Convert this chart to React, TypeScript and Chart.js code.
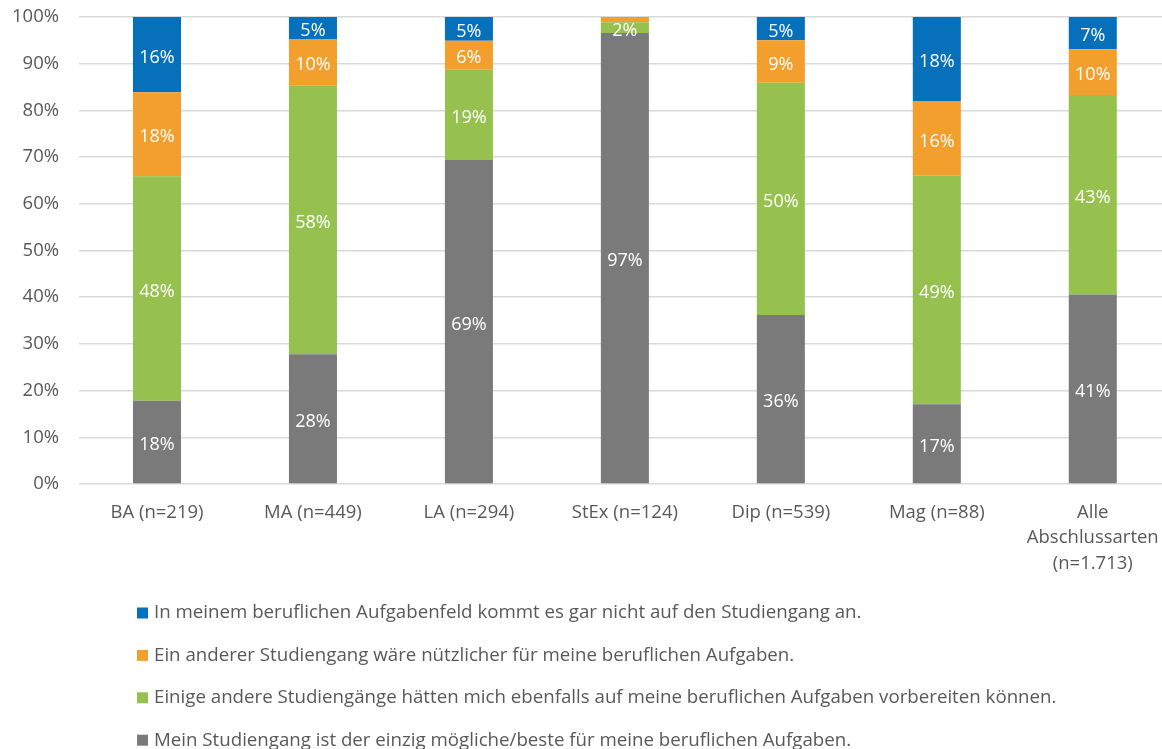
import React, { useEffect, useRef } from "react";
import { Chart, registerables } from "chart.js";

Chart.register(...registerables);

const categories: (string | string[])[] = [
  "BA (n=219)",
  "MA (n=449)",
  "LA (n=294)",
  "StEx (n=124)",
  "Dip (n=539)",
  "Mag (n=88)",
  ["Alle", "Abschlussarten", "(n=1.713)"],
];

const seriesNames = [
  "Mein Studiengang ist der einzig mögliche/beste für meine beruflichen Aufgaben.",
  "Einige andere Studiengänge hätten mich ebenfalls auf meine beruflichen Aufgaben vorbereiten können.",
  "Ein anderer Studiengang wäre nützlicher für meine beruflichen Aufgaben.",
  "In meinem beruflichen Aufgabenfeld kommt es gar nicht auf den Studiengang an.",
];

const grayValues = [17.8, 27.8, 69.4, 96.6, 36.2, 17.1, 40.6];
const greenValues = [48.1, 57.6, 19.3, 2.3, 49.7, 48.9, 42.7];
const orangeValues = [18.0, 9.8, 6.2, 1.1, 9.1, 16.0, 9.8];
const blueValues = [16.1, 4.8, 5.1, 0, 5.0, 18.0, 6.9];

const seriesColors = ["#7a7a7a", "#97c14e", "#f39f2e", "#0770bb"];

const yTicks = [0, 10, 20, 30, 40, 50, 60, 70, 80, 90, 100];

const FONT = "'Open Sans', sans-serif";
const TEXT_COLOR = "#595959";

const barLabelPlugin = {
  id: "barLabels",
  afterDatasetsDraw(chart: any) {
    const ctx = chart.ctx;
    ctx.save();
    ctx.font = `18px ${FONT}`;
    ctx.fillStyle = "#ffffff";
    ctx.textAlign = "center";
    ctx.textBaseline = "middle";
    chart.data.datasets.forEach((ds: any, i: number) => {
      const meta = chart.getDatasetMeta(i);
      meta.data.forEach((bar: any, j: number) => {
        const v = ds.data[j] as number;
        const r = Math.round(v);
        if (r < 2) return;
        const { x, y, base } = bar.getProps(["x", "y", "base"], true);
        ctx.fillText(r + "%", x, (y + base) / 2 + 3);
      });
    });
    ctx.restore();
  },
};

const legendPlugin = {
  id: "stackLegend",
  afterDraw(chart: any) {
    const ctx = chart.ctx;
    const bottom = chart.chartArea.bottom;
    ctx.save();
    ctx.font = `18.7px ${FONT}`;
    ctx.textAlign = "left";
    ctx.textBaseline = "middle";
    const n = chart.data.datasets.length;
    for (let k = 0; k < n; k++) {
      const ds = chart.data.datasets[n - 1 - k];
      const cy = bottom + 129 + k * 42.4;
      ctx.fillStyle = ds.backgroundColor;
      ctx.fillRect(137, cy - 5.5, 11, 11);
      ctx.fillStyle = TEXT_COLOR;
      ctx.fillText(ds.label, 154, cy);
    }
    ctx.restore();
  },
};

export default function App() {
  const ref = useRef<HTMLCanvasElement | null>(null);

  useEffect(() => {
    if (!ref.current) return;
    const values = [grayValues, greenValues, orangeValues, blueValues];
    const chart = new Chart(ref.current, {
      type: "bar",
      data: {
        labels: categories,
        datasets: values.map((vals, i) => ({
          label: seriesNames[i],
          data: vals,
          backgroundColor: seriesColors[i],
          borderWidth: 0,
          categoryPercentage: 1,
          barPercentage: 0.308,
        })),
      },
      options: {
        responsive: false,
        animation: false,
        layout: { padding: { top: 17, right: 4, bottom: 0, left: 0 } },
        plugins: {
          legend: { display: false },
          tooltip: { enabled: false },
        },
        scales: {
          x: {
            stacked: true,
            grid: { display: false, drawTicks: false },
            border: { display: false },
            ticks: {
              color: TEXT_COLOR,
              font: { family: FONT, size: 18.5, lineHeight: 1.37 },
              padding: 16,
              maxRotation: 0,
              autoSkip: false,
            },
            afterFit(scale: any) {
              scale.height = 265;
              scale.paddingTop = 0;
              scale.paddingBottom = 0;
            },
          },
          y: {
            stacked: true,
            min: 0,
            max: 100,
            afterBuildTicks(scale: any) {
              scale.ticks = yTicks.map((v) => ({ value: v }));
            },
            grid: { color: "#d9d9d9", lineWidth: 1.5, drawTicks: false },
            border: { display: false },
            ticks: {
              color: TEXT_COLOR,
              font: { family: FONT, size: 18.5 },
              padding: 20,
              callback: (v: any) => v + "%",
            },
            afterFit(scale: any) {
              scale.width = 79;
              scale.paddingTop = 0;
              scale.paddingBottom = 0;
            },
          },
        },
      },
      plugins: [barLabelPlugin, legendPlugin],
    });
    return () => chart.destroy();
  }, []);

  return (
    <div
      style={{
        position: "absolute",
        left: 0,
        top: 0,
        width: 1162,
        height: 749,
        overflow: "hidden",
        background: "#ffffff",
      }}
    >
      <canvas ref={ref} width={1175} height={749} style={{ display: "block" }} />
    </div>
  );
}
